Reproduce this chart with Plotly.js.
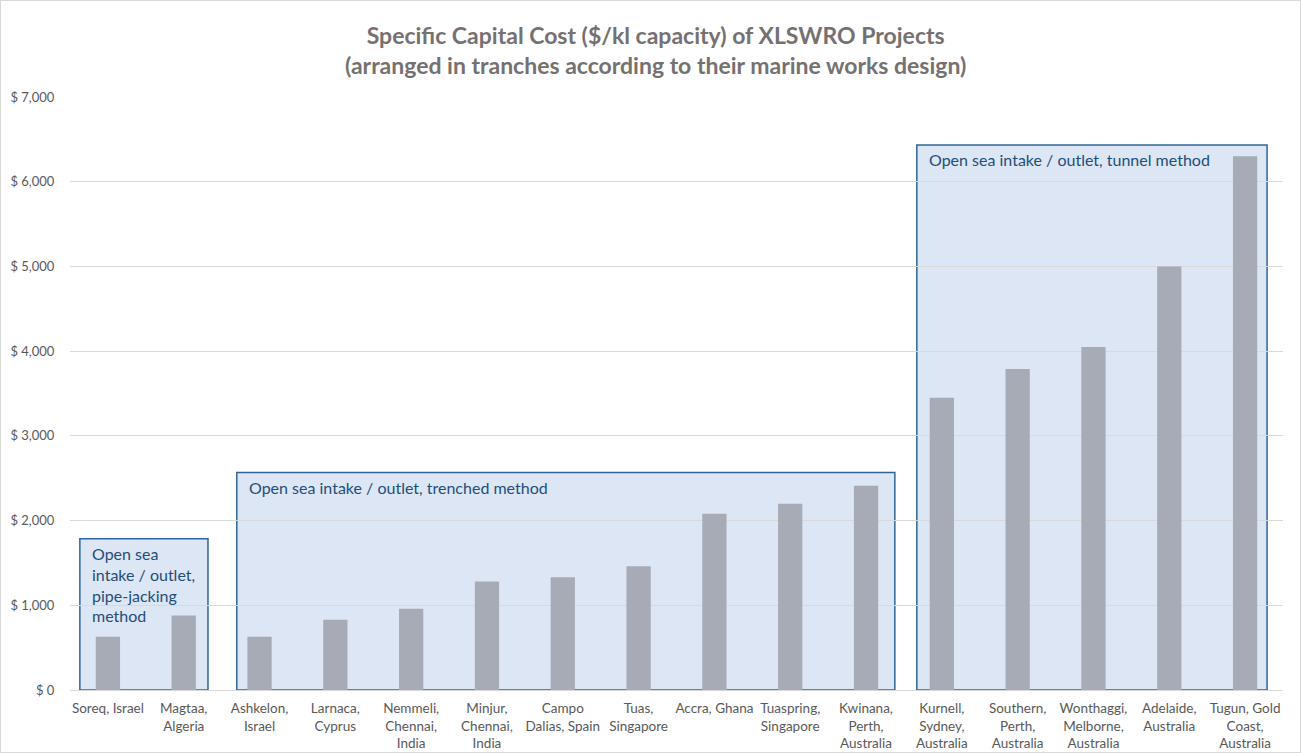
<!DOCTYPE html>
<html><head><meta charset="utf-8">
<script src="https://cdn.plot.ly/plotly-3.0.1.min.js"></script>
<style>html,body{margin:0;padding:0;background:#fff}#chart{width:1301px;height:753px;box-sizing:border-box;border:1px solid #d9d9d9}</style>
</head><body><div id="chart"></div>
<script>
const categories = ["Soreq, Israel","Magtaa,<br>Algeria","Ashkelon,<br>Israel","Larnaca,<br>Cyprus","Nemmeli,<br>Chennai,<br>India","Minjur,<br>Chennai,<br>India","Campo<br>Dalias, Spain","Tuas,<br>Singapore","Accra, Ghana","Tuaspring,<br>Singapore","Kwinana,<br>Perth,<br>Australia","Kurnell,<br>Sydney,<br>Australia","Southern,<br>Perth,<br>Australia","Wonthaggi,<br>Melborne,<br>Australia","Adelaide,<br>Australia","Tugun, Gold<br>Coast,<br>Australia"];
const costs = [630, 880, 630, 830, 960, 1280, 1330, 1460, 2080, 2200, 2410, 3450, 3790, 4050, 5000, 6300];
const groupLabels = ["Open sea<br>intake / outlet,<br>pipe-jacking<br>method","Open sea intake / outlet, trenched method","Open sea intake / outlet, tunnel method"];
const groupFirst = [0, 2, 11];
const groupLast = [1, 10, 15];
const groupTop = [1785, 2566, 6433];
const yTicks = [0,1000,2000,3000,4000,5000,6000,7000];
const yTickText = ["$ 0","$ 1,000","$ 2,000","$ 3,000","$ 4,000","$ 5,000","$ 6,000","$ 7,000"];
const titleText = 'Specific Capital Cost ($/kl capacity) of XLSWRO Projects<br>(arranged in tranches according to their marine works design)';

const idx = categories.map((c,i)=>i);
const padL = [0.37, 0.30, 0.33];
const padR = [0.32, 0.38, 0.29];
const FONT = 'Lato, "Open Sans", sans-serif';
const shapes = groupFirst.map((f,g)=>({type:'rect',xref:'x',yref:'y',x0:f-padL[g],x1:groupLast[g]+padR[g],y0:0,y1:groupTop[g],
  fillcolor:'#dce6f4',line:{color:'#2f6597',width:1.5},layer:'below'}));
const annotations = groupFirst.map((f,g)=>({xref:'x',yref:'y',x:f-padL[g]+0.14,y:groupTop[g],xanchor:'left',yanchor:'top',yshift:-3,
  text:groupLabels[g],showarrow:false,align:'left',font:{family:FONT,size:16,color:'#1f4e79'}}));
annotations.push({xref:'paper',yref:'paper',x:0.483,y:1.079,xanchor:'center',yanchor:'middle',showarrow:false,align:'center',
  text:'<b>'+titleText.replace('<br>','</b><br><b>')+'</b>',font:{family:FONT,size:23,color:'#767171'}});

Plotly.newPlot('chart',[{type:'bar',x:idx,y:costs,marker:{color:'#a6abb6'},hoverinfo:'y'}],{
  width:1299,height:751,margin:{l:69,r:17,t:96,b:62},
  paper_bgcolor:'#fff',plot_bgcolor:'rgba(0,0,0,0)',
  bargap:0.68,showlegend:false,
  font:{family:FONT,size:12,color:'#595959'},
  xaxis:{range:[-0.5,15.5],tickvals:idx,ticktext:categories,tickangle:0,showgrid:false,zeroline:false,showline:true,linecolor:'#d9d9d9',linewidth:1,
    ticks:'outside',ticklen:6,tickcolor:'rgba(0,0,0,0)',tickfont:{family:FONT,size:13.5,color:'#595959'}},
  yaxis:{range:[0,7000],tickvals:yTicks,ticktext:yTickText,showgrid:true,gridcolor:'#d9d9d9',gridwidth:1,zeroline:false,showline:false,
    ticks:'outside',ticklen:12,tickcolor:'rgba(0,0,0,0)',tickfont:{family:FONT,size:13,color:'#595959'}},
  shapes:shapes,annotations:annotations
},{displayModeBar:false});
</script></body></html>
